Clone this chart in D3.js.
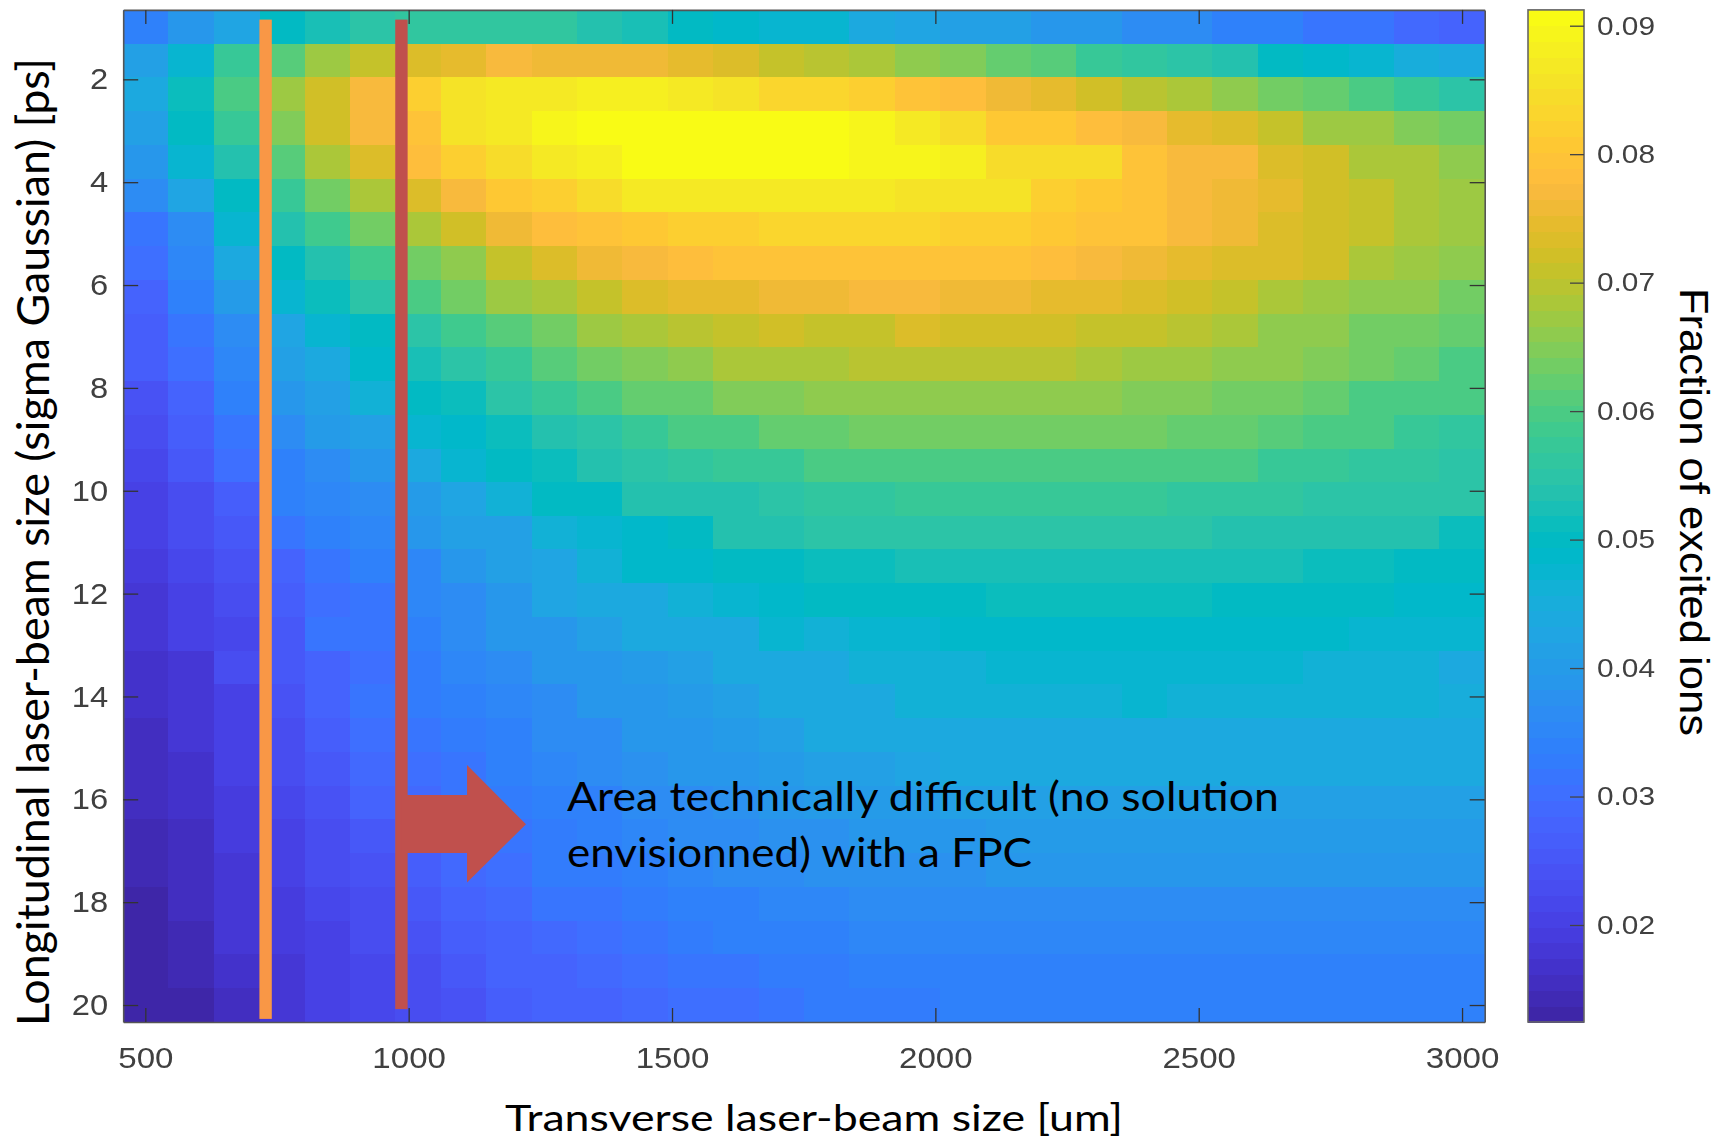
<!DOCTYPE html>
<html>
<head>
<meta charset="utf-8">
<script src="https://cdnjs.cloudflare.com/ajax/libs/d3/7.8.5/d3.min.js"></script>
<style>
    html, body { margin: 0; padding: 0; background: #fff; overflow: hidden; }
    svg { display: block; }
    .tick-label { font-family: "Liberation Sans", sans-serif; fill: #404040; filter: blur(0.4px); }
    .calibri-ish { font-family: "Lato", sans-serif; fill: #000; }
</style>
</head>
<body>
<div id="chart"></div>
<script>
// 1: DATA
const transverseSizes = [500, 586, 672, 759, 845, 931, 1017, 1103, 1190, 1276, 1362, 1448, 1534, 1621, 1707,
    1793, 1879, 1966, 2052, 2138, 2224, 2310, 2397, 2483, 2569, 2655, 2741, 2828, 2914, 3000];
const longitudinalSizes = [1, 1.66, 2.31, 2.97, 3.62, 4.28, 4.93, 5.59, 6.24, 6.9, 7.55, 8.21, 8.86, 9.52, 10.17,
    10.83, 11.48, 12.14, 12.79, 13.45, 14.1, 14.76, 15.41, 16.07, 16.72, 17.38, 18.03, 18.69, 19.34, 20];

// one row per longitudinal size, one column per transverse size
const excitedFraction = [
    [.034,.039,.043,.0505,.053,.055,.056,.056,.056,.056,.054,.052,.05,.049,.047,.048,.044,.043,.042,.041,.039,.039,.036,.036,.034,.034,.032,.031,.029,.028],
    [.042,.048,.058,.061,.067,.071,.0735,.075,.0775,.0765,.0765,.0765,.075,.074,.071,.07,.0685,.066,.065,.0625,.0615,.058,.056,.0555,.054,.05,.049,.048,.045,.044],
    [.0435,.051,.06,.0675,.0722,.0775,.082,.086,.0865,.087,.088,.088,.0865,.0855,.083,.083,.0825,.079,.0785,.076,.075,.072,.0695,.0685,.066,.063,.0625,.0605,.058,.055],
    [.042,.0505,.058,.065,.072,.0775,.08,.086,.087,.09,.091,.091,.091,.091,.091,.091,.089,.087,.085,.081,.081,.0785,.0775,.075,.074,.071,.0675,.067,.0645,.063],
    [.039,.0475,.054,.0615,.0685,.074,.0785,.082,.0845,.087,.088,.091,.091,.091,.091,.091,.089,.089,.088,.085,.084,.084,.08,.0775,.077,.074,.0725,.069,.068,.0655],
    [.036,.043,.0505,.0575,.0635,.0685,.074,.0775,.081,.0825,.085,.087,.087,.087,.0875,.087,.087,.086,.0855,.0855,.0825,.081,.08,.0775,.076,.0745,.072,.0705,.068,.067],
    [.032,.037,.047,.054,.059,.064,.068,.072,.0755,.0785,.08,.081,.082,.0825,.0835,.0835,.083,.083,.082,.082,.081,.08,.079,.0775,.076,.073,.072,.0705,.068,.067],
    [.03,.035,.0435,.0505,.054,.059,.064,.0665,.0705,.0735,.076,.077,.0785,.0795,.0795,.08,.08,.08,.08,.079,.0785,.077,.0755,.0745,.0735,.073,.0725,.068,.067,.0655],
    [.0285,.034,.04,.0475,.051,.0555,.06,.0635,.067,.068,.071,.0735,.0745,.0745,.076,.076,.077,.077,.076,.076,.0745,.0745,.0735,.072,.0705,.0685,.0675,.0665,.0655,.064],
    [.0265,.032,.036,.0425,.0475,.0505,.055,.059,.0615,.064,.067,.068,.0695,.0705,.072,.0715,.0715,.0735,.072,.072,.072,.071,.071,.0695,.068,.0665,.0655,.064,.0635,.0625],
    [.0265,.0305,.035,.041,.0445,.0485,.053,.0555,.058,.0615,.0635,.0645,.066,.0685,.0685,.0685,.0695,.0695,.0695,.0695,.0695,.0685,.0675,.0675,.066,.066,.0645,.0635,.062,.0605],
    [.024,.0285,.034,.0385,.041,.0465,.0495,.051,.0555,.058,.0595,.0625,.0625,.0645,.0645,.066,.066,.066,.066,.066,.066,.066,.0645,.0645,.0635,.0635,.062,.0605,.0605,.0595],
    [.0225,.0265,.032,.0365,.04,.0415,.047,.0485,.051,.054,.0555,.058,.0595,.0595,.0625,.062,.0635,.0635,.0635,.0635,.0635,.0635,.0635,.062,.062,.0615,.0595,.0595,.0575,.0565],
    [.0215,.025,.0305,.0345,.0365,.0385,.0445,.0475,.0495,.0515,.0535,.0555,.0565,.057,.0575,.0595,.0595,.0605,.0605,.0605,.0605,.0605,.0595,.0595,.0595,.058,.058,.0565,.0565,.0555],
    [.021,.0235,.027,.0335,.035,.037,.04,.0425,.0465,.0495,.0505,.0535,.0535,.054,.0555,.0565,.0565,.058,.058,.058,.058,.058,.058,.0565,.0565,.0565,.0555,.0555,.055,.055],
    [.0205,.0225,.0255,.031,.0345,.035,.0385,.0415,.0415,.0465,.0475,.0485,.05,.0535,.0535,.0545,.055,.0555,.0555,.0555,.0555,.0555,.0555,.0555,.054,.054,.054,.0535,.0535,.051],
    [.0195,.0215,.024,.0285,.032,.034,.035,.039,.041,.043,.0465,.0485,.0485,.05,.05,.051,.051,.053,.053,.053,.053,.053,.053,.053,.053,.053,.0515,.0515,.05,.05],
    [.0185,.021,.023,.027,.0305,.032,.0355,.037,.0385,.0425,.0435,.0435,.0465,.048,.049,.0505,.0505,.0505,.0505,.0515,.0515,.0515,.0515,.0515,.0505,.0505,.0505,.0505,.0485,.0485],
    [.0175,.02,.022,.0255,.031,.0315,.0345,.036,.0385,.039,.042,.0435,.0435,.044,.047,.0465,.0475,.0475,.049,.049,.049,.049,.049,.049,.049,.049,.049,.0475,.0475,.0475],
    [.0165,.0185,.0225,.025,.0285,.0305,.033,.035,.0365,.0385,.039,.04,.042,.0435,.0445,.0435,.046,.046,.046,.0475,.0475,.0475,.0475,.0475,.0475,.047,.0465,.0465,.0465,.0435],
    [.0165,.018,.021,.0245,.028,.031,.0325,.034,.0355,.037,.0385,.039,.04,.042,.0435,.044,.0445,.046,.046,.046,.046,.046,.0475,.046,.046,.046,.046,.046,.046,.0455],
    [.016,.0175,.0205,.0235,.027,.03,.0315,.033,.034,.036,.037,.0385,.039,.0405,.042,.0435,.044,.044,.0445,.0445,.0445,.0445,.0445,.0445,.0445,.0445,.0445,.0445,.0445,.044],
    [.0155,.017,.02,.0225,.0255,.029,.0305,.032,.0335,.035,.036,.0375,.0385,.039,.0405,.0415,.042,.043,.0435,.0435,.0435,.0435,.0435,.0435,.0435,.0435,.0435,.0435,.0435,.0435],
    [.015,.0165,.0195,.0215,.0245,.0275,.0295,.0315,.0325,.034,.0345,.036,.037,.038,.039,.04,.0405,.0405,.041,.042,.042,.042,.042,.042,.042,.042,.042,.042,.042,.042],
    [.0145,.016,.019,.0205,.0235,.026,.028,.03,.0315,.033,.034,.035,.036,.037,.0375,.038,.039,.039,.0395,.04,.0405,.0405,.0405,.0405,.0405,.0405,.0405,.0405,.0405,.0405],
    [.014,.0155,.0185,.02,.0225,.0245,.0265,.029,.0305,.0325,.033,.0345,.0355,.036,.0365,.0375,.038,.038,.038,.0385,.0385,.0385,.0385,.0385,.039,.039,.039,.039,.039,.039],
    [.0135,.015,.018,.0195,.0215,.0235,.0255,.0275,.029,.031,.032,.033,.0335,.0345,.035,.0355,.036,.036,.0365,.037,.037,.037,.037,.037,.037,.037,.037,.037,.037,.037],
    [.013,.0145,.0175,.019,.021,.0225,.0245,.0265,.028,.0295,.03,.0315,.0325,.0335,.034,.034,.035,.035,.035,.0355,.0355,.0355,.0355,.0355,.0355,.0355,.0355,.0355,.0355,.0355],
    [.013,.014,.0165,.0185,.0205,.022,.0235,.0255,.0275,.0285,.029,.03,.031,.032,.0325,.033,.0335,.034,.034,.0345,.0345,.0345,.0345,.0345,.0345,.0345,.0345,.0345,.0345,.0345],
    [.0125,.0135,.016,.018,.02,.0215,.023,.0245,.027,.028,.0285,.029,.03,.0305,.0315,.0325,.033,.033,.0335,.034,.034,.034,.034,.034,.034,.034,.034,.034,.034,.034]
];

const xTicks = [500, 1000, 1500, 2000, 2500, 3000];
const yTicks = [2, 4, 6, 8, 10, 12, 14, 16, 18, 20];
const colorbarTicks = [0.02, 0.03, 0.04, 0.05, 0.06, 0.07, 0.08, 0.09];
const colorLimits = [0.0125, 0.0913];

// annotations, in axis units
const orangeLine = { x: 727, y0: 0.86, y1: 20.27 };
const redLine = { x: 985, y0: 0.86, y1: 20.08 };
const arrowShape = [[985, 15.92], [1110, 15.92], [1110, 15.34], [1222, 16.49], [1110, 17.62], [1110, 17.05], [985, 17.05]];

// matlab parula, 64 steps
const parula = [
    [.2422,.1504,.6603],[.2504,.165,.7076],[.2578,.1818,.7511],[.2647,.1978,.7952],[.2706,.2147,.8364],[.2751,.2342,.871],
    [.2783,.2559,.8991],[.2803,.2782,.9221],[.2813,.3006,.9414],[.281,.3228,.9579],[.2795,.3447,.9717],[.276,.3667,.9829],
    [.2699,.3892,.9906],[.2602,.4123,.9952],[.244,.4358,.9988],[.2206,.4603,.9973],[.1963,.4847,.9892],[.1834,.5074,.9798],
    [.1786,.5289,.9682],[.1764,.5499,.952],[.1687,.5703,.9359],[.154,.5902,.9218],[.146,.6091,.9079],[.138,.6276,.8973],
    [.1248,.6459,.8883],[.1113,.6635,.8763],[.0952,.6798,.8598],[.0689,.6948,.8394],[.0297,.7082,.8163],[.0036,.7203,.7917],
    [.0067,.7312,.766],[.0433,.7411,.7394],[.0964,.75,.712],[.1408,.7584,.6842],[.1717,.767,.6554],[.1938,.7758,.6251],
    [.2161,.7843,.5923],[.247,.7918,.5567],[.2906,.7973,.5188],[.3406,.8008,.4789],[.3909,.8029,.4354],[.4456,.8024,.3909],
    [.5044,.7993,.348],[.5616,.7942,.3045],[.6174,.7876,.2612],[.672,.7793,.2227],[.7242,.7698,.191],[.7738,.7598,.1646],
    [.8203,.7498,.1535],[.8634,.7406,.1596],[.9035,.733,.1774],[.9393,.7288,.21],[.9728,.7298,.2394],[.9956,.7434,.2371],
    [.997,.7659,.2199],[.9952,.7861,.1999],[.9892,.8135,.1884],[.9786,.8386,.1766],[.9676,.8639,.1643],[.961,.889,.1537],
    [.9597,.9135,.1423],[.9628,.9373,.1265],[.9691,.9606,.1064],[.9769,.9839,.0805]
].map(c => d3.rgb(c[0] * 255, c[1] * 255, c[2] * 255).formatHex());

// 2: SCALES
const svg = d3.select("#chart").append("svg").attr("width", 1730).attr("height", 1139);

const plot = { left: 123.2, right: 1484.7, top: 9.9, bottom: 1022 };
const bar = { left: 1528, right: 1584 };

const xScale = d3.scaleLinear().domain([500, 3000]).range([145.9, 1462]);
const yScale = d3.scaleLinear().domain([2, 20]).range([78.3, 1005]);
const cScale = d3.scaleLinear().domain([0.09, 0.02]).range([25.7, 925]);

const colorOf = d3.scaleQuantize().domain(colorLimits).range(parula);

const cellW = (xScale(3000) - xScale(500)) / (transverseSizes.length - 1);
const cellH = (yScale(20) - yScale(1)) / (longitudinalSizes.length - 1);

// 3: HEATMAP CELLS
const cells = excitedFraction.flatMap((row, r) => row.map((value, c) => ({
    x: transverseSizes[c], y: longitudinalSizes[r], value
})));

svg.append("g")
    .attr("shape-rendering", "crispEdges")
    .selectAll("rect")
    .data(cells)
    .join("rect")
    .attr("x", d => xScale(d.x) - cellW / 2)
    .attr("y", d => yScale(d.y) - cellH / 2)
    .attr("width", cellW + 0.5)
    .attr("height", cellH + 0.5)
    .attr("fill", d => colorOf(d.value));

// 4: AXES (box on, ticks pointing in on all sides)
function styleAxis(g) {
    g.select(".domain").attr("stroke", "#555").attr("stroke-width", 1.6);
    g.selectAll(".tick line").attr("stroke", "#333").attr("stroke-width", 1.3);
}

svg.append("g")
    .attr("transform", `translate(0,${plot.bottom})`)
    .call(d3.axisBottom(xScale.copy().domain([458, 3043]).range([plot.left, plot.right]))
        .tickValues(xTicks).tickFormat(d3.format("d")).tickSizeInner(-14).tickSizeOuter(0).tickPadding(25))
    .call(styleAxis)
    .selectAll("text")
    .attr("class", "tick-label")
    .attr("font-size", 29)
    .attr("fill", null)
    .attr("textLength", d => String(d).length * 18.4)
    .attr("lengthAdjust", "spacingAndGlyphs");

svg.append("g")
    .attr("transform", `translate(0,${plot.top})`)
    .call(d3.axisTop(xScale.copy().domain([458, 3043]).range([plot.left, plot.right]))
        .tickValues(xTicks).tickSizeInner(-14).tickSizeOuter(0).tickFormat(""))
    .call(styleAxis);

const yAxisScale = yScale.copy().domain([0.65, 20.33]).range([plot.top, plot.bottom]);

svg.append("g")
    .attr("transform", `translate(${plot.left},0)`)
    .call(d3.axisLeft(yAxisScale).tickValues(yTicks).tickSizeInner(-15).tickSizeOuter(0).tickPadding(15))
    .call(styleAxis)
    .selectAll("text")
    .attr("class", "tick-label")
    .attr("font-size", 30)
    .attr("fill", null)
    .attr("textLength", d => String(d).length * 18.2)
    .attr("lengthAdjust", "spacingAndGlyphs");

svg.append("g")
    .attr("transform", `translate(${plot.right},0)`)
    .call(d3.axisRight(yAxisScale).tickValues(yTicks).tickSizeInner(-15).tickSizeOuter(0).tickFormat(""))
    .call(styleAxis);

// 5: COLORBAR
const bandH = (plot.bottom - plot.top) / parula.length;

svg.append("g")
    .attr("shape-rendering", "crispEdges")
    .selectAll("rect")
    .data(parula)
    .join("rect")
    .attr("x", bar.left)
    .attr("y", (d, i) => plot.bottom - (i + 1) * bandH)
    .attr("width", bar.right - bar.left)
    .attr("height", bandH + 0.5)
    .attr("fill", d => d);

svg.append("rect")
    .attr("x", bar.left)
    .attr("y", plot.top)
    .attr("width", bar.right - bar.left)
    .attr("height", plot.bottom - plot.top)
    .attr("fill", "none")
    .attr("stroke", "#666")
    .attr("stroke-width", 1.6);

svg.append("g")
    .attr("transform", `translate(${bar.right},0)`)
    .call(d3.axisRight(cScale).tickValues(colorbarTicks).tickFormat(d3.format(".2f"))
        .tickSizeInner(-14).tickSizeOuter(0).tickPadding(13))
    .call(g => g.select(".domain").remove())
    .call(g => g.selectAll(".tick line").attr("stroke", "#444").attr("stroke-width", 1.3))
    .selectAll("text")
    .attr("class", "tick-label")
    .attr("font-size", 26)
    .attr("fill", null)
    .attr("textLength", 58)
    .attr("lengthAdjust", "spacingAndGlyphs");

// 6: LABELS
svg.append("text")
    .attr("class", "calibri-ish")
    .attr("x", 505)
    .attr("y", 1131)
    .attr("font-size", 37.5)
    .attr("textLength", 618)
    .attr("lengthAdjust", "spacingAndGlyphs")
    .text("Transverse laser-beam size [um]");

svg.append("text")
    .attr("class", "calibri-ish")
    .attr("transform", "translate(49,1026) rotate(-90)")
    .attr("font-size", 45)
    .attr("textLength", 968)
    .attr("lengthAdjust", "spacingAndGlyphs")
    .text("Longitudinal laser-beam size (sigma Gaussian) [ps]");

svg.append("text")
    .attr("transform", "translate(1680,288) rotate(90)")
    .attr("font-family", "Liberation Sans, sans-serif")
    .attr("font-size", 40)
    .attr("fill", "#000")
    .attr("textLength", 448)
    .attr("lengthAdjust", "spacingAndGlyphs")
    .text("Fraction of excited ions");

// 7: ANNOTATIONS
[[orangeLine, "#F99746"], [redLine, "#C0504D"]].forEach(([l, color]) => {
    svg.append("rect")
        .attr("x", xScale(l.x) - 6)
        .attr("y", yScale(l.y0))
        .attr("width", 12.4)
        .attr("height", yScale(l.y1) - yScale(l.y0))
        .attr("fill", color);
});

svg.append("path")
    .attr("d", d3.line().x(d => xScale(d[0])).y(d => yScale(d[1]))(arrowShape) + "Z")
    .attr("fill", "#C0504D");

svg.append("text")
    .attr("class", "calibri-ish")
    .attr("x", 567)
    .attr("y", 811)
    .attr("font-size", 40)
    .attr("textLength", 712)
    .attr("lengthAdjust", "spacingAndGlyphs")
    .text("Area technically difficult (no solution");

svg.append("text")
    .attr("class", "calibri-ish")
    .attr("x", 567)
    .attr("y", 867)
    .attr("font-size", 40)
    .attr("textLength", 465)
    .attr("lengthAdjust", "spacingAndGlyphs")
    .text("envisionned) with a FPC");
</script>
</body>
</html>
